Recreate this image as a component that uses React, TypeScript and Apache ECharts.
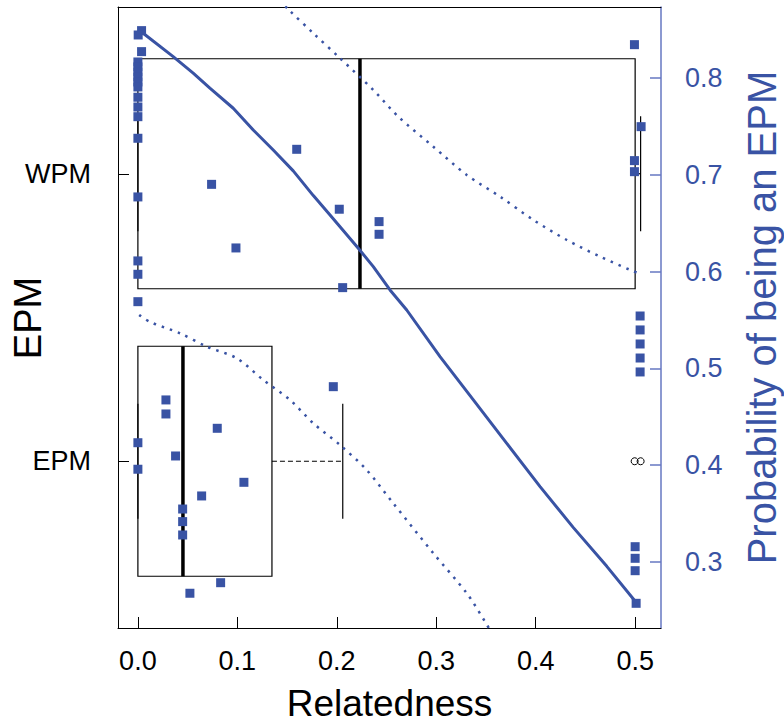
import React, { useEffect, useRef } from "react";
import * as echarts from "echarts";

// ---- data ----
const xTicks = [0, 0.1, 0.2, 0.3, 0.4, 0.5];
const probTicks = [0.3, 0.4, 0.5, 0.6, 0.7, 0.8];
const groupNames = ["EPM", "WPM"];
const groupPos = [1, 2];
const boxMin = [0, 0];
const boxQ1 = [0, 0];
const boxMedian = [0.0453, 0.2233];
const boxQ3 = [0.1348, 0.5];
const boxMax = [0.206, 0.5055];
const outlierX = [0.4995, 0.5055];
const outlierGroup = [1, 1];

// observations (relatedness, plotted on probability scale)
const pointsX = [
  0.0037, 0.0003, 0.0037, 0, 0, 0, 0, 0, 0, 0, 0, 0, 0, 0.1597, 0.0741, 0, 0.2025, 0.2425, 0.2425,
  0.0986, 0, 0, 0.2059, 0, 0.4993, 0.506, 0.4993, 0.4993, 0.505, 0.505, 0.505, 0.505, 0.505,
  0.1965, 0.0282, 0.0282, 0.0798, 0, 0.0379, 0, 0.1066, 0.0641, 0.045, 0.045, 0.045, 0.0832, 0.0523,
  0.5, 0.5, 0.5, 0.501,
];
const pointsY = [
  0.8489, 0.8444, 0.8272, 0.8165, 0.8114, 0.8062, 0.801, 0.7959, 0.7907, 0.7801, 0.77, 0.76, 0.7377,
  0.7263, 0.6901, 0.6771, 0.6644, 0.6516, 0.6385, 0.6244, 0.611, 0.5972, 0.5834, 0.5689, 0.8344,
  0.7497, 0.7146, 0.7032, 0.5541, 0.5397, 0.5252, 0.5107, 0.4963, 0.4811, 0.4674, 0.4529, 0.4381,
  0.4232, 0.4095, 0.3958, 0.3823, 0.3682, 0.3547, 0.3417, 0.3279, 0.2786, 0.2677, 0.3158, 0.3038,
  0.291, 0.2573,
];

// fitted probability and confidence band
const fitX = [
  0.0053, 0.0355, 0.0556, 0.0724, 0.0959, 0.116, 0.1361, 0.1562, 0.1764, 0.1932, 0.2216, 0.2367,
  0.2535, 0.2703, 0.3038, 0.3373, 0.3709, 0.4044, 0.4379, 0.4715, 0.5017,
];
const fitY = [
  0.8462, 0.822, 0.805, 0.7894, 0.7687, 0.7463, 0.7256, 0.704, 0.6785, 0.6585, 0.6241, 0.6051,
  0.581, 0.5603, 0.5121, 0.4674, 0.4226, 0.3778, 0.3355, 0.2955, 0.2573,
];
const upperX = [0.13, 0.1519, 0.1764, 0.2032, 0.2367, 0.2619, 0.2971, 0.3307, 0.3642, 0.3977, 0.4313, 0.4648, 0.495, 0.5033];
const upperY = [0.893, 0.8702, 0.8462, 0.8204, 0.7876, 0.76, 0.729, 0.6998, 0.6774, 0.6533, 0.6326, 0.6154, 0.6017, 0.5983];
const lowerX = [0.0013, 0.0121, 0.0423, 0.0691, 0.0993, 0.1261, 0.1529, 0.1764, 0.2032, 0.2301, 0.2568, 0.2971, 0.3307, 0.3491, 0.355];
const lowerY = [0.5552, 0.548, 0.5363, 0.5225, 0.5105, 0.488, 0.4674, 0.4433, 0.4209, 0.395, 0.3606, 0.309, 0.2677, 0.2383, 0.228];

const BLUE = "#3953a4";
const BLUE_AXIS = "#6677c2";
const FONT = "'Liberation Sans', Arial, Helvetica, sans-serif";

export default function App() {
  const ref = useRef<HTMLDivElement>(null);
  useEffect(() => {
    if (!ref.current) return;
    const chart = echarts.init(ref.current, null, { renderer: "svg" });

    const boxData = groupPos.map((p, i) => [p, boxMin[i], boxQ1[i], boxMedian[i], boxQ3[i], boxMax[i]]);

    const option: any = {
      animation: false,
      backgroundColor: "#fff",
      textStyle: { fontFamily: FONT },
      grid: { left: 118, right: 123, top: 7, bottom: 96, show: false },
      xAxis: [
        {
          type: "value",
          min: -0.02,
          max: 0.526,
          splitLine: { show: false },
          axisLine: { onZero: false, lineStyle: { color: "#000", width: 1 } },
          axisTick: { customValues: xTicks, inside: true, length: 11, lineStyle: { color: "#000" } },
          axisLabel: {
            customValues: xTicks,
            formatter: (v: number) => v.toFixed(1),
            fontSize: 27,
            color: "#000",
            margin: 19,
            fontFamily: FONT,
          },
        },
        {
          type: "value",
          position: "top",
          min: -0.02,
          max: 0.526,
          splitLine: { show: false },
          axisLine: { show: true, onZero: false, lineStyle: { color: "#000", width: 1 } },
          axisTick: { show: false },
          axisLabel: { show: false },
        },
      ],
      yAxis: [
        {
          type: "value",
          min: 0.42,
          max: 2.58,
          splitLine: { show: false },
          axisLine: { show: true, onZero: false, lineStyle: { color: "#000", width: 1 } },
          axisTick: { customValues: groupPos, inside: true, length: 11, lineStyle: { color: "#000" } },
          axisLabel: {
            customValues: groupPos,
            formatter: (v: number) => groupNames[groupPos.indexOf(Math.round(v))] ?? "",
            fontSize: 27,
            color: "#000",
            margin: 27,
            fontFamily: FONT,
          },
        },
        {
          type: "value",
          position: "right",
          min: 0.2318,
          max: 0.8733,
          splitLine: { show: false },
          axisLine: { show: true, onZero: false, lineStyle: { color: BLUE_AXIS, width: 1.5 } },
          axisTick: { customValues: probTicks, inside: true, length: 11, lineStyle: { color: BLUE_AXIS, width: 1.5 } },
          axisLabel: {
            customValues: probTicks,
            formatter: (v: number) => v.toFixed(1),
            fontSize: 27,
            color: BLUE,
            margin: 24,
            fontFamily: FONT,
          },
        },
      ],
      series: [
        {
          type: "custom",
          xAxisIndex: 0,
          yAxisIndex: 0,
          z: 2,
          encode: { y: 0, x: [1, 2, 3, 4, 5] },
          data: boxData,
          renderItem: (params: any, api: any) => {
            const pos = api.value(0);
            const mn = api.value(1);
            const q1 = api.value(2);
            const md = api.value(3);
            const q3 = api.value(4);
            const mx = api.value(5);
            const half = 0.4;
            const st = 0.2;
            const [xq1, yTop] = api.coord([q1, pos + half]);
            const [xq3, yBot] = api.coord([q3, pos - half]);
            const [xmd, yc] = api.coord([md, pos]);
            const xmn = api.coord([mn, pos])[0];
            const xmx = api.coord([mx, pos])[0];
            const ys1 = api.coord([mx, pos + st])[1];
            const ys2 = api.coord([mx, pos - st])[1];
            const thin = { stroke: "#000", lineWidth: 1.2, fill: "none" };
            return {
              type: "group",
              children: [
                { type: "rect", shape: { x: xq1, y: yTop, width: xq3 - xq1, height: yBot - yTop }, style: { ...thin } },
                { type: "line", shape: { x1: xq3, y1: yc, x2: xmx, y2: yc }, style: { ...thin, lineDash: [5, 3] } },
                { type: "line", shape: { x1: xmn, y1: yc, x2: xq1, y2: yc }, style: { ...thin, lineDash: [5, 3] } },
                { type: "line", shape: { x1: xmx, y1: ys1, x2: xmx, y2: ys2 }, style: { ...thin } },
                { type: "line", shape: { x1: xmn, y1: ys1, x2: xmn, y2: ys2 }, style: { ...thin } },
                { type: "line", shape: { x1: xmd, y1: yTop, x2: xmd, y2: yBot }, style: { stroke: "#000", lineWidth: 3.5 } },
              ],
            };
          },
        },
        {
          type: "scatter",
          xAxisIndex: 0,
          yAxisIndex: 0,
          z: 3,
          symbol: "circle",
          symbolSize: 7,
          itemStyle: { color: "rgba(255,255,255,0)", borderColor: "#000", borderWidth: 1, opacity: 1 },
          data: outlierX.map((x, i) => [x, outlierGroup[i]]),
        },
        {
          type: "line",
          xAxisIndex: 0,
          yAxisIndex: 1,
          z: 4,
          showSymbol: false,
          symbol: "none",
          clip: true,
          smooth: false,
          lineStyle: { color: BLUE, width: 3, join: "round" },
          data: fitX.map((x, i) => [x, fitY[i]]),
        },
        {
          type: "line",
          xAxisIndex: 0,
          yAxisIndex: 1,
          z: 4,
          showSymbol: false,
          symbol: "none",
          clip: true,
          smooth: 0.3,
          lineStyle: { color: BLUE, width: 2.5, type: [2.5, 6] },
          data: upperX.map((x, i) => [x, upperY[i]]),
        },
        {
          type: "line",
          xAxisIndex: 0,
          yAxisIndex: 1,
          z: 4,
          showSymbol: false,
          symbol: "none",
          clip: true,
          smooth: 0.3,
          lineStyle: { color: BLUE, width: 2.5, type: [2.5, 6] },
          data: lowerX.map((x, i) => [x, lowerY[i]]),
        },
        {
          type: "scatter",
          xAxisIndex: 0,
          yAxisIndex: 1,
          z: 5,
          symbol: "rect",
          symbolSize: 9,
          itemStyle: { color: BLUE, opacity: 1 },
          data: pointsX.map((x, i) => [x, pointsY[i]]),
        },
      ],
      graphic: [
        {
          type: "text",
          x: 389.5,
          y: 703,
          style: { text: "Relatedness", fontSize: 37, fill: "#000", align: "center", verticalAlign: "middle", fontFamily: FONT },
        },
        {
          type: "text",
          x: 28,
          y: 318,
          rotation: Math.PI / 2,
          style: { text: "EPM", fontSize: 38, fill: "#000", align: "center", verticalAlign: "middle", fontFamily: FONT },
        },
        {
          type: "text",
          x: 762,
          y: 317.5,
          rotation: Math.PI / 2,
          style: {
            text: "Probability of being an EPM",
            fontSize: 40,
            fill: BLUE,
            align: "center",
            verticalAlign: "middle",
            fontFamily: FONT,
          },
        },
      ],
    };
    chart.setOption(option);
    return () => chart.dispose();
  }, []);
  return <div ref={ref} style={{ position: "fixed", left: 0, top: 0, width: 784, height: 724 }} />;
}
